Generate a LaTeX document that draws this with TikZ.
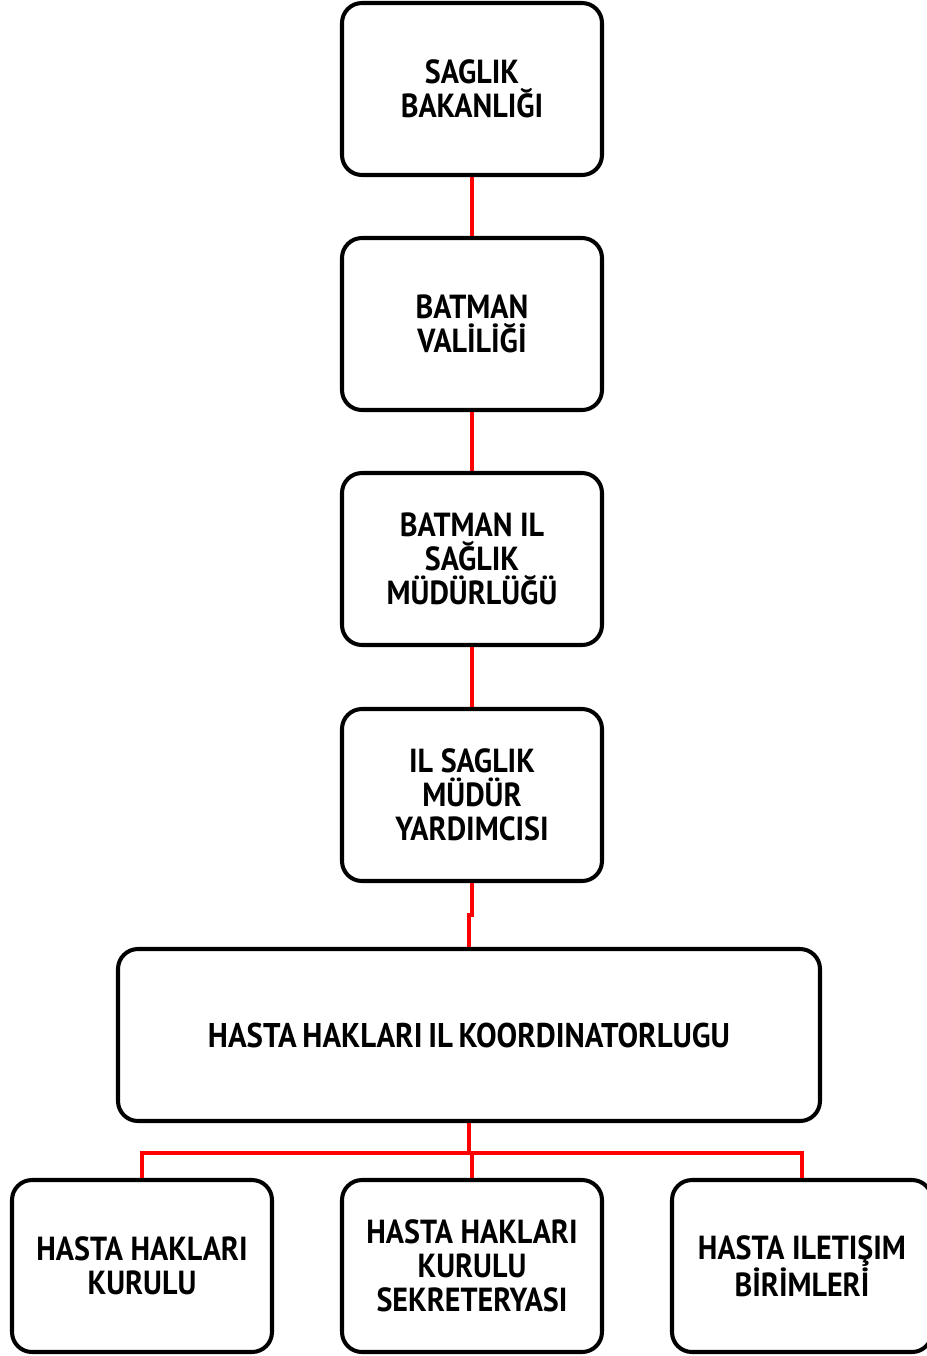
\documentclass[tikz,border=0pt]{standalone}
\usepackage{fontspec}
\setmainfont{PT Sans}
\newfontfamily\narrowfont{PT Sans}[FakeStretch=0.9]
\usepackage{xcolor}
\usepackage{tikz}
\definecolor{linkred}{RGB}{255, 0, 0}
\usetikzlibrary{positioning, calc}

\begin{document}
\begin{tikzpicture}[
    unitbox/.style={rectangle, draw, line width=2.3pt, rounded corners=0.4cm, minimum width=5.2cm, minimum height=3.44cm, align=center, font=\narrowfont\fontsize{19}{19.5}\selectfont\bfseries},
    widebox/.style={unitbox, minimum width=14.04cm, font=\narrowfont\fontsize{19.5}{19.5}\selectfont\bfseries},
    linkline/.style={draw=linkred, line width=2.3pt}
]
    \useasboundingbox (0,0) rectangle (18.52,-27.12);

    \node[unitbox] (bakanlik) at (9.44, -1.78) {SAGLIK\\BAKANLIĞI};
    \node[unitbox] (valilik) at (9.44, -6.48) {BATMAN\\VALİLİĞİ};
    \node[unitbox] (mudurluk) at (9.44, -11.18) {BATMAN IL\\SAĞLIK\\MÜDÜRLÜĞÜ};
    \node[unitbox] (yardimci) at (9.44, -15.9) {IL SAGLIK\\MÜDÜR\\YARDIMCISI};

    \node[widebox] (koord) at (9.38, -20.7) {HASTA\,HAKLARI\,IL\,KOORDINATORLUGU};

    \node[unitbox] (kurul) at (2.84, -25.32) {HASTA HAKLARI\\KURULU};
    \node[unitbox] (sekreter) at (9.44, -25.32) {HASTA HAKLARI\\KURULU\\SEKRETERYASI};
    \node[unitbox] (iletisim) at (16.04, -25.32) {HASTA ILETIŞIM\\BİRİMLERİ};

    % connectors
    \draw[linkline] (bakanlik) -- (valilik);
    \draw[linkline] (valilik) -- (mudurluk);
    \draw[linkline] (mudurluk) -- (yardimci);
    \draw[linkline] (yardimci.south) -- ++(0,-0.64) -| (koord.north);

    \draw[linkline] (koord.south) -- ++(0,-0.6) coordinate (split);
    \draw[linkline] (split) -| (kurul.north);
    \draw[linkline] (split) -| (sekreter.north);
    \draw[linkline] (split) -| (iletisim.north);
\end{tikzpicture}
\end{document}
